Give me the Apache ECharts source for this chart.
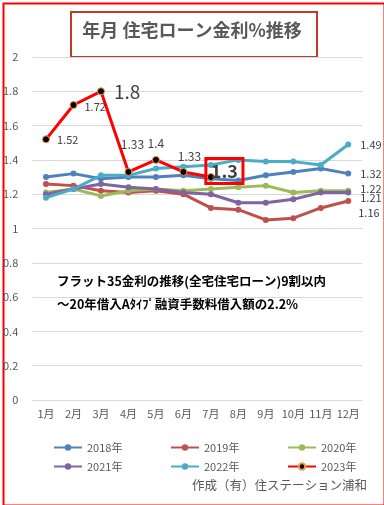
<!DOCTYPE html>
<html><head><meta charset="utf-8">
<script src="https://cdn.jsdelivr.net/npm/echarts@6/dist/echarts.min.js"></script>
<style>html,body{margin:0;padding:0;background:#fff}#c{width:384px;height:505px}</style>
</head><body><div id="c"></div>
<script>
const months = ['1月','2月','3月','4月','5月','6月','7月','8月','9月','10月','11月','12月'];
const yTicks = [0,0.2,0.4,0.6,0.8,1,1.2,1.4,1.6,1.8,2];
const names = ['2018年','2019年','2020年','2021年','2022年','2023年'];
const r2018 = [1.30,1.32,1.29,1.30,1.30,1.31,1.29,1.28,1.31,1.33,1.35,1.32];
const r2019 = [1.26,1.25,1.22,1.21,1.22,1.20,1.12,1.11,1.05,1.06,1.12,1.16];
const r2020 = [1.21,1.23,1.19,1.22,1.23,1.22,1.23,1.24,1.25,1.21,1.22,1.22];
const r2021 = [1.20,1.23,1.26,1.24,1.23,1.21,1.20,1.15,1.15,1.17,1.21,1.21];
const r2022 = [1.18,1.23,1.31,1.31,1.35,1.36,1.37,1.40,1.39,1.39,1.37,1.49];
const r2023 = [1.52,1.72,1.80,1.33,1.40,1.33,1.30];
const colors = ['#4F81BD','#C0504D','#9BBB59','#8064A2','#4BACC6','#FF0000'];
const FONT = 'Noto Sans CJK JP';

const chart = echarts.init(document.getElementById('c'), null, {renderer:'canvas'});

function endLabeled(arr, lab) {
  return arr.map((v,i)=> i===arr.length-1 ? {value:v, label:Object.assign({show:true, color:'#404040', fontSize:11, fontFamily:FONT, formatter:String(v)}, lab)} : v);
}
function mkSeries(i, arr, lab) {
  return {
    name: names[i], type:'line', data: endLabeled(arr, lab),
    symbol:'circle', symbolSize:6, showSymbol:true,
    lineStyle:{width:3, color:colors[i]}, itemStyle:{color:colors[i]},
    emphasis:{disabled:true}, z: 2
  };
}
const lab2023 = [
  {position:'right', offset:[2,0], fontSize:11},
  {position:'right', offset:[2,2], fontSize:11},
  {position:'right', offset:[4,0], fontSize:19},
  {position:'top', offset:[4,-12], fontSize:12},
  {position:'top', offset:[0,-1], fontSize:12},
  {position:'top', offset:[6,0], fontSize:12},
  {position:'right', offset:[-14,-6], fontSize:18, fontWeight:'bold', borderColor:'#FF0000', borderWidth:3, padding:[4,5,3,5]}
];
const d2023 = r2023.map((v,i)=>({value:v, label:Object.assign({show:true, color:'#404040', fontFamily:FONT, formatter:String(v)}, lab2023[i])}));

const legends = names.map((n,i)=>({
  data:[n], left:[48,165,282][i%3], top: i<3 ? 437 : 456,
  itemWidth:28, itemHeight:8, itemGap:2,
  textStyle:{fontSize:11, color:'#595959', fontFamily:FONT},
  selectedMode:false
}));

chart.setOption({
  animation:false,
  textStyle:{fontFamily:FONT},
  grid:{left:29, right:22, top:57, bottom:105, containLabel:false},
  xAxis:{type:'category', data:months, boundaryGap:true,
    axisLine:{show:true, lineStyle:{color:'#D9D9D9'}}, axisTick:{show:false},
    axisLabel:{color:'#595959', fontSize:11, margin:8, interval:0, fontFamily:FONT}},
  yAxis:{type:'value', min:yTicks[0], max:yTicks[yTicks.length-1], interval:0.2,
    axisLine:{show:false}, axisTick:{show:false},
    axisLabel:{color:'#595959', fontSize:11, margin:14, fontFamily:FONT, formatter:v=>String(+v.toFixed(1))},
    splitLine:{lineStyle:{color:'#D9D9D9', width:1}}},
  legend: legends,
  series:[
    mkSeries(0, r2018, {position:'right', offset:[4,0]}),
    mkSeries(1, r2019, {position:'right', offset:[2,12]}),
    mkSeries(2, r2020, {position:'right', offset:[4,-2]}),
    mkSeries(3, r2021, {position:'right', offset:[4,5]}),
    mkSeries(4, r2022, {position:'right', offset:[4,0]}),
    {name:names[5], type:'line', data:d2023, symbol:'circle', symbolSize:7,
     lineStyle:{width:3, color:'#FF0000'}, itemStyle:{color:'#000000', borderColor:'#F79646', borderWidth:1},
     emphasis:{disabled:true}, z:5}
  ],
  graphic:[
    {type:'rect', left:1, top:1, shape:{width:381, height:502}, style:{fill:'none', stroke:'#FF0000', lineWidth:2}, silent:true},
    {type:'rect', left:70, top:11, shape:{width:246, height:45}, style:{fill:'#fff', stroke:'#C0392B', lineWidth:2}, silent:true},
    {type:'text', left:'center', top:21, style:{text:'年月 住宅ローン金利%推移', font:'bold 18px "Noto Sans CJK JP"', fill:'#595959'}, silent:true},
    {type:'text', left:57, top:275, style:{text:'フラット35金利の推移(全宅住宅ローン)9割以内', font:'bold 12.5px "Noto Sans CJK JP"', fill:'#000'}, silent:true},
    {type:'text', left:57, top:298, style:{text:'～20年借入Aﾀｲﾌﾟ融資手数料借入額の2.2%', font:'bold 12.5px "Noto Sans CJK JP"', fill:'#000'}, silent:true},
    {type:'text', right:17, top:479, style:{text:'作成（有）住ステーション浦和', font:'12.5px "Noto Sans CJK JP"', fill:'#595959'}, silent:true}
  ]
});
</script></body></html>
